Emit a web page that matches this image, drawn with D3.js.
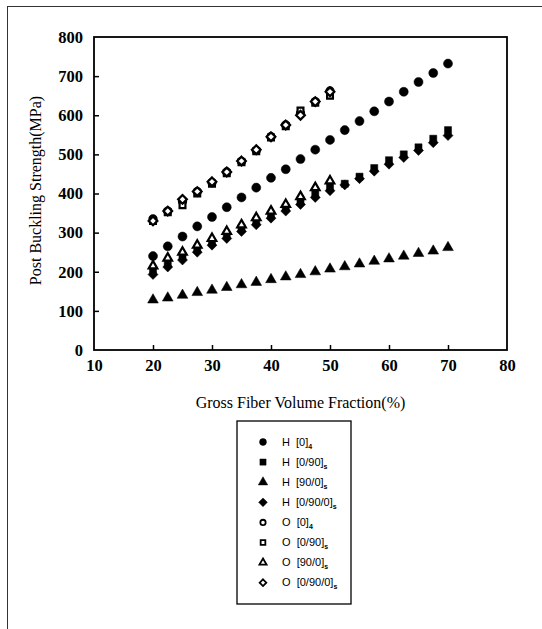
<!DOCTYPE html>
<html>
<head>
<meta charset="utf-8">
<script src="https://cdn.jsdelivr.net/npm/d3@7"></script>
<style>
  body { margin: 0; background: #fff; }
  svg { display: block; }
</style>
</head>
<body>
<svg id="chart"></svg>
<script>
// fiber volume fraction (%)
const xFull = [20, 22.5, 25, 27.5, 30, 32.5, 35, 37.5, 40, 42.5, 45, 47.5, 50,
               52.5, 55, 57.5, 60, 62.5, 65, 67.5, 70];
const xHalf = [20, 22.5, 25, 27.5, 30, 32.5, 35, 37.5, 40, 42.5, 45, 47.5, 50];

// post buckling strength (MPa)
const h0 = [240, 265, 290, 316, 340, 365, 390, 415, 440, 462, 488, 512, 537,
            562, 585, 610, 635, 660, 685, 708, 732];
const h090 = [205, 222, 240, 258, 276, 294, 312, 330, 345, 364, 383, 400, 418,
              425, 443, 465, 485, 500, 518, 540, 562];
const h900 = [128, 133, 140, 147, 153, 160, 167, 173, 180, 187, 193, 200, 207,
              213, 220, 227, 233, 240, 247, 253, 262];
const h0900 = [193, 212, 230, 250, 268, 285, 303, 320, 337, 355, 372, 390, 407,
               422, 438, 457, 475, 492, 510, 530, 548];
const o0 = [335, 355, 380, 405, 428, 455, 482, 510, 545, 575, 605, 635, 662];
const o090 = [330, 352, 370, 400, 425, 452, 480, 508, 543, 572, 612, 632, 650];
const o900 = [215, 235, 250, 268, 285, 303, 320, 338, 355, 372, 392, 415, 432];
const o0900 = [330, 355, 385, 405, 430, 455, 483, 512, 545, 575, 600, 635, 660];

const xTicks = [10, 20, 30, 40, 50, 60, 70, 80];
const yTicks = [0, 100, 200, 300, 400, 500, 600, 700, 800];

const series = [
    { pre: "H", lay: "[0]", sub: "4", shape: "circle", fill: true, xs: xFull, ys: h0 },
    { pre: "H", lay: "[0/90]", sub: "s", shape: "square", fill: true, xs: xFull, ys: h090 },
    { pre: "H", lay: "[90/0]", sub: "s", shape: "triangle", fill: true, xs: xFull, ys: h900 },
    { pre: "H", lay: "[0/90/0]", sub: "s", shape: "diamond", fill: true, xs: xFull, ys: h0900 },
    { pre: "O", lay: "[0]", sub: "4", shape: "circle", fill: false, xs: xHalf, ys: o0 },
    { pre: "O", lay: "[0/90]", sub: "s", shape: "square", fill: false, xs: xHalf, ys: o090 },
    { pre: "O", lay: "[90/0]", sub: "s", shape: "triangle", fill: false, xs: xHalf, ys: o900 },
    { pre: "O", lay: "[0/90/0]", sub: "s", shape: "diamond", fill: false, xs: xHalf, ys: o0900 }
];

const W = 542, H = 629;
const margin = { top: 37, left: 94, right: 35, bottom: 279 };
const width = W - margin.left - margin.right;
const height = H - margin.top - margin.bottom;

const svg = d3.select("#chart").attr("width", W).attr("height", H);

// outer frame (left + top edge only visible)
svg.append("line").attr("x1", 7.5).attr("x2", 7.5).attr("y1", 6).attr("y2", H)
    .attr("stroke", "#333").attr("stroke-width", 1);
svg.append("line").attr("x1", 7).attr("x2", W).attr("y1", 6.5).attr("y2", 6.5)
    .attr("stroke", "#333").attr("stroke-width", 1);

const chart = svg.append("g")
    .attr("transform", `translate(${margin.left},${margin.top})`);

const xScale = d3.scaleLinear().domain([10, 80]).range([0, width]);
const yScale = d3.scaleLinear().domain([0, 800]).range([height, 0]);

// square diamond (rotated square), d3's own diamond is too narrow
const squareDiamond = {
    draw(ctx, size) {
        const r = Math.sqrt(size / 2);
        ctx.moveTo(0, -r);
        ctx.lineTo(r, 0);
        ctx.lineTo(0, r);
        ctx.lineTo(-r, 0);
        ctx.closePath();
    }
};

const symType = {
    circle: d3.symbolCircle,
    square: d3.symbolSquare,
    triangle: d3.symbolTriangle,
    diamond: squareDiamond
};
const symSize = { circle: 64, square: 50, triangle: 50, diamond: 50 };
const openSize = { circle: 40, square: 34, triangle: 32, diamond: 38 };

function symPath(s) {
    return d3.symbol().type(symType[s.shape]).size(s.fill ? symSize[s.shape] : openSize[s.shape])();
}

// axes
const xAxis = d3.axisBottom(xScale).tickValues(xTicks).tickSizeInner(-5).tickSizeOuter(0).tickPadding(9);
const yAxis = d3.axisLeft(yScale).tickValues(yTicks).tickSizeInner(-5).tickSizeOuter(0).tickPadding(11);

const xAxisG = chart.append("g").attr("transform", `translate(0,${height})`).call(xAxis);
const yAxisG = chart.append("g").call(yAxis);

[xAxisG, yAxisG].forEach(g => {
    g.selectAll(".domain").remove();
    g.selectAll("line").attr("stroke", "#000").attr("stroke-width", 1.5);
    g.selectAll("text")
        .attr("font-family", "'Liberation Serif', serif")
        .attr("font-weight", "bold")
        .attr("font-size", 16.5)
        .attr("fill", "#000");
});
// the 10 and 80 labels sit below the corners; hide their tick marks
xAxisG.selectAll(".tick line").filter(d => d === 10 || d === 80).remove();
yAxisG.selectAll(".tick line").filter(d => d === 0 || d === 800).remove();

chart.append("rect")
    .attr("x", 0).attr("y", 0).attr("width", width).attr("height", height)
    .attr("fill", "none").attr("stroke", "#000").attr("stroke-width", 1.8);

// points
series.forEach(s => {
    const pts = s.xs.map((x, i) => [x, s.ys[i]]);
    chart.append("g").selectAll("path")
        .data(pts)
        .enter()
        .append("path")
        .attr("d", symPath(s))
        .attr("transform", d => `translate(${xScale(d[0])},${yScale(d[1])})`)
        .attr("fill", s.fill ? "#000" : "#fff")
        .attr("stroke", "#000")
        .attr("stroke-width", s.fill ? 0.5 : 2.2);
});

// axis titles
svg.append("text")
    .attr("x", margin.left + width / 2).attr("y", 408)
    .attr("text-anchor", "middle")
    .attr("font-family", "'Liberation Serif', serif")
    .attr("font-size", 16)
    .text("Gross Fiber Volume Fraction(%)");

svg.append("text")
    .attr("transform", `translate(41,${margin.top + height / 2 - 3}) rotate(-90)`)
    .attr("text-anchor", "middle")
    .attr("font-family", "'Liberation Serif', serif")
    .attr("font-size", 16)
    .text("Post Buckling Strength(MPa)");

// legend
const legend = svg.append("g").attr("transform", "translate(237,421)");
legend.append("rect")
    .attr("x", 0).attr("y", 0).attr("width", 114).attr("height", 183)
    .attr("fill", "#fff").attr("stroke", "#000").attr("stroke-width", 1.3);

const rows = legend.selectAll("g.row")
    .data(series)
    .enter()
    .append("g")
    .attr("class", "row")
    .attr("transform", (d, i) => `translate(0,${21 + i * 20.1})`);

rows.append("path")
    .attr("d", d => d3.symbol().type(symType[d.shape]).size(d.fill ? 38 : 22)())
    .attr("transform", "translate(26,0)")
    .attr("fill", d => d.fill ? "#000" : "#fff")
    .attr("stroke", "#000")
    .attr("stroke-width", d => d.fill ? 0.5 : 1.8);

const lt = rows.append("text")
    .attr("x", 45).attr("y", 3.5)
    .attr("font-family", "'Liberation Sans', Arial, sans-serif")
    .attr("font-size", 11)
    .attr("fill", "#000");
lt.append("tspan").text(d => d.pre + "  " + d.lay).attr("xml:space", "preserve");
lt.append("tspan").attr("font-size", 7).attr("font-weight", "bold").attr("dy", 3).text(d => d.sub);
</script>
</body>
</html>
